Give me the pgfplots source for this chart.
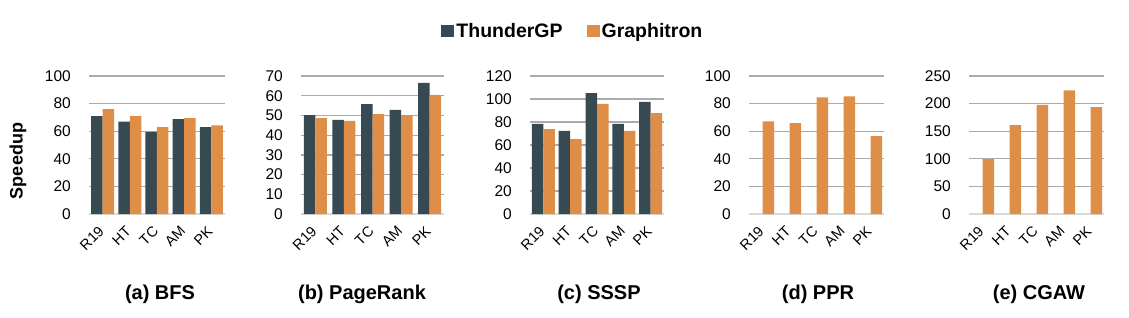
\documentclass[border=0pt]{standalone}
\usepackage{fontspec}
\setmainfont{Liberation Sans}
\usepackage{pgfplots}
\pgfplotsset{compat=1.18}
\definecolor{thun}{HTML}{374A52}
\definecolor{grap}{HTML}{DE8E46}
\definecolor{gridc}{HTML}{ABABAB}
\definecolor{basec}{HTML}{D9D9D9}
\pgfplotsset{
  panel/.style={
    scale only axis,
    height=138pt,
    anchor=south west,
    ymin=0,
    xmin=-0.5, xmax=4.5,
    xtick={0,1,2,3,4},
    xticklabels={R19,HT,TC,AM,PK},
    axis line style={draw=none},
    major tick length=0pt,
    ymajorgrids,
    major grid style={draw=gridc, line width=1.3pt},
    extra y ticks={0},
    extra y tick labels={},
    extra y tick style={major grid style={draw=basec, line width=2.2pt}},
    yticklabel style={font=\fontsize{15.5}{17}\selectfont, inner sep=0pt, anchor=east, xshift=-18pt},
    /pgf/number format/assume math mode=true,
    xticklabel style={font=\fontsize{14.5}{16}\selectfont, inner sep=0pt, anchor=north east, xshift=-5pt, yshift=-11pt, rotate=45},
    bar width=11.5pt,
    legend image code/.code={\fill[##1] (0pt,-6pt) rectangle (13pt,6pt);},
  },
  th/.style={ybar, bar shift=-5.75pt, fill=thun, draw=none},
  gr/.style={ybar, bar shift=5.75pt, fill=grap, draw=none},
}
\begin{document}
\begin{tikzpicture}[x=1pt,y=1pt]
\useasboundingbox (0,0) rectangle (1129,317);

% (a) BFS
\begin{axis}[panel, at={(89pt,103pt)}, width=136pt, ymax=100, ytick={0,20,...,100}]
\addplot[th] coordinates {(0,71) (1,67) (2,59.5) (3,68.7) (4,63)};
\addplot[gr] coordinates {(0,76) (1,71) (2,63) (3,69.4) (4,64.3)};
\end{axis}

% (b) PageRank
\begin{axis}[panel, at={(301pt,103pt)}, width=143pt, ymax=70, ytick={0,10,...,70}]
\addplot[th] coordinates {(0,50.2) (1,47.7) (2,55.8) (3,52.8) (4,66.5)};
\addplot[gr] coordinates {(0,48.7) (1,47.2) (2,50.7) (3,50.2) (4,60.4)};
\end{axis}

% (c) SSSP
\begin{axis}[panel, at={(530pt,103pt)}, width=134pt, ymax=120, ytick={0,20,...,120},
  legend columns=2,
  legend style={draw=none, fill=none, at={(axis description cs:0.32,1.326)}, anchor=center,
    font=\bfseries\fontsize{19.5}{22}\selectfont,
    /tikz/every even column/.append style={column sep=22pt},
    cells={anchor=west}, inner sep=0pt}]
\addplot[th] coordinates {(0,78.3) (1,72.2) (2,105.2) (3,78.3) (4,97.4)};
\addlegendentry{ThunderGP}
\addplot[gr] coordinates {(0,73.9) (1,65.2) (2,95.7) (3,72.2) (4,87.8)};
\addlegendentry{Graphitron}
\end{axis}

% (d) PPR
\begin{axis}[panel, at={(749pt,103pt)}, width=135pt, ymax=100, ytick={0,20,...,100}]
\addplot[gr] coordinates {(0,67.2) (1,65.8) (2,84.6) (3,85.3) (4,56.4)};
\end{axis}

% (e) CGAW
\begin{axis}[panel, at={(969pt,103pt)}, width=135pt, ymax=250, ytick={0,50,...,250}]
\addplot[gr] coordinates {(0,99.4) (1,160.8) (2,197.6) (3,224) (4,193.4)};
\end{axis}

\node[rotate=90, font=\bfseries\fontsize{18}{20}\selectfont] at (18,156) {Speedup};

\begin{scope}[every node/.style={font=\bfseries\fontsize{20}{22}\selectfont}]
\node at (160,23) {(a) BFS};
\node at (362,23) {(b) PageRank};
\node at (599,23) {(c) SSSP};
\node at (818,23) {(d) PPR};
\node at (1039,23) {(e) CGAW};
\end{scope}
\end{tikzpicture}
\end{document}
